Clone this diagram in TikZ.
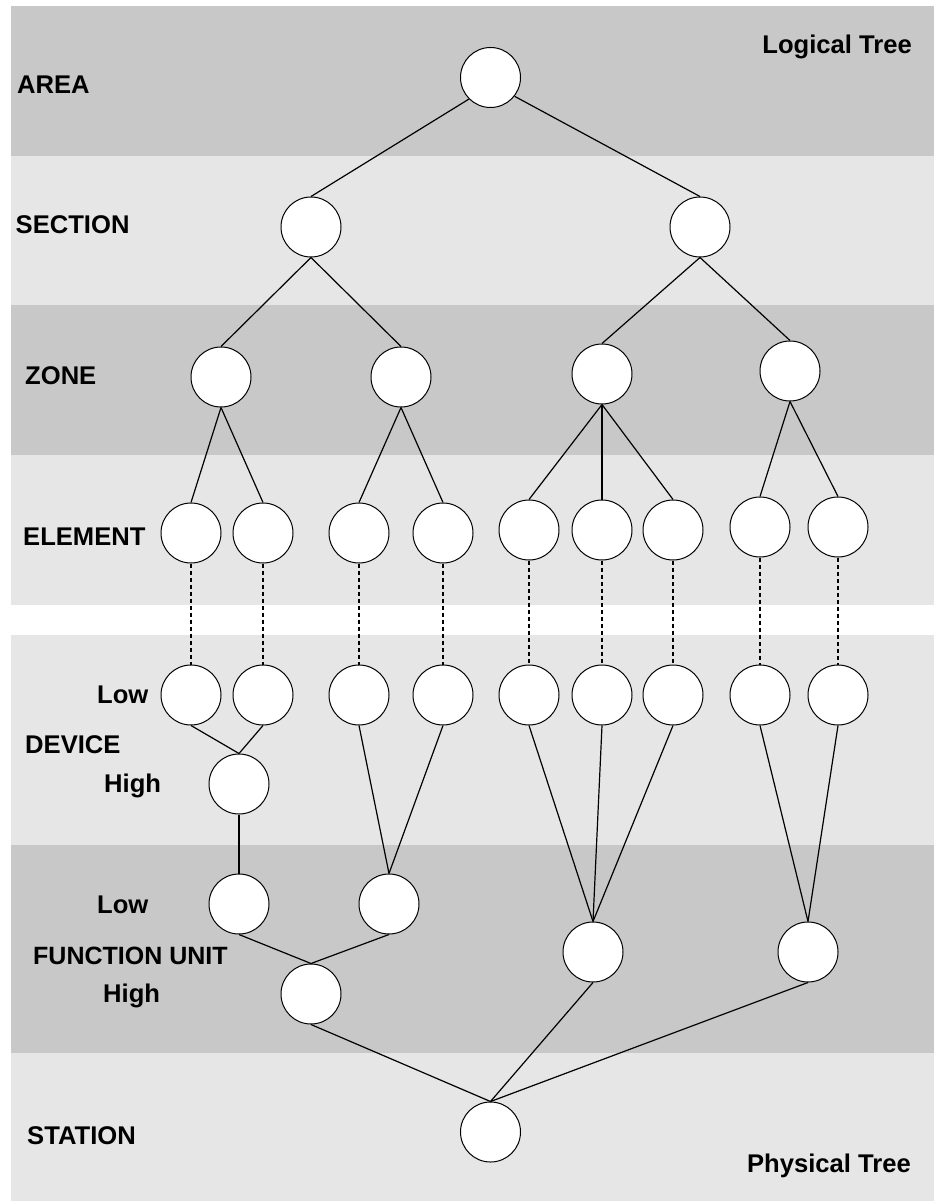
\documentclass[tikz,border=0pt]{standalone}
\usepackage{fontspec}
\setmainfont{Liberation Sans}
\definecolor{bandDark}{RGB}{200,200,200}
\definecolor{bandLight}{RGB}{230,230,230}
\begin{document}
\begin{tikzpicture}[x=1pt,y=-1pt,
  nd/.style={circle,draw=black,fill=white,line width=1pt,minimum size=60pt,inner sep=0pt},
  lbl/.style={font=\fontsize{25.6}{30}\selectfont\bfseries,inner sep=0pt},
  edge/.style={draw=black,line width=1.2pt},
  dsh/.style={draw=black,line width=1.2pt,dash pattern=on 4pt off 3pt}]
\useasboundingbox (0,0) rectangle (934,1201);
\fill[white] (0,0) rectangle (934,1201);
% bands
\fill[bandDark]  (11,6)    rectangle (934,156);
\fill[bandLight] (11,156)  rectangle (934,305);
\fill[bandDark]  (11,305)  rectangle (934,455);
\fill[bandLight] (11,455)  rectangle (934,605);
\fill[bandLight] (11,635)  rectangle (934,845);
\fill[bandDark]  (11,845)  rectangle (934,1053);
\fill[bandLight] (11,1053) rectangle (934,1201);
% labels
\node[lbl,anchor=base west] (lArea) at (17,94) {AREA};
\node[lbl,anchor=base west] (lSection) at (15.5,233.5) {SECTION};
\node[lbl,anchor=base west] (lZone) at (25,384) {ZONE};
\node[lbl,anchor=base west] (lElement) at (23,545) {ELEMENT};
\node[lbl,anchor=base west] (lDevLow) at (97,703) {Low};
\node[lbl,anchor=base west] (lDevice) at (25,753) {DEVICE};
\node[lbl,anchor=base west] (lDevHigh) at (104,792) {High};
\node[lbl,anchor=base west] (lFuLow) at (97,913) {Low};
\node[lbl,anchor=base west,font=\fontsize{25}{30}\selectfont\bfseries] (lFu) at (33,964) {FUNCTION UNIT};
\node[lbl,anchor=base west] (lFuHigh) at (103,1002) {High};
\node[lbl,anchor=base west] (lStation) at (27,1144) {STATION};
\node[lbl,anchor=base east] (lLogical) at (912,54) {Logical Tree};
\node[lbl,anchor=base east] (lPhysical) at (911,1172.5) {Physical Tree};
% nodes
\node[nd] (root) at (490.5,77.5) {};
\node[nd] (s1) at (311,227) {};
\node[nd] (s2) at (700,227) {};
\node[nd] (z1) at (221,377) {};
\node[nd] (z2) at (401,377) {};
\node[nd] (z3) at (602,374) {};
\node[nd] (z4) at (790,371) {};
\node[nd] (e1) at (191,533) {};
\node[nd] (e2) at (263,533) {};
\node[nd] (e3) at (359,533) {};
\node[nd] (e4) at (443,533) {};
\node[nd] (e5) at (529,530) {};
\node[nd] (e6) at (602,530) {};
\node[nd] (e7) at (673,530) {};
\node[nd] (e8) at (760,527) {};
\node[nd] (e9) at (838,527) {};
\node[nd] (d1) at (191,695) {};
\node[nd] (d2) at (263,695) {};
\node[nd] (d3) at (359,695) {};
\node[nd] (d4) at (443,695) {};
\node[nd] (d5) at (529,695) {};
\node[nd] (d6) at (602,695) {};
\node[nd] (d7) at (673,695) {};
\node[nd] (d8) at (760,695) {};
\node[nd] (d9) at (838,695) {};
\node[nd] (dh) at (239,784) {};
\node[nd] (f1) at (239,904) {};
\node[nd] (f2) at (389,904) {};
\node[nd] (f3) at (593,952) {};
\node[nd] (f4) at (808,952) {};
\node[nd] (fh) at (311,994) {};
\node[nd] (st) at (490.5,1132) {};
% connectors
\path[edge] (root.225) -- (s1.north);
\path[edge] (root.-38) -- (s2.north);
\path[edge] (s1.south) -- (z1.north);
\path[edge] (s1.south) -- (z2.north);
\path[edge] (s2.south) -- (z3.north);
\path[edge] (s2.south) -- (z4.north);
\path[edge] (z1.south) -- (e1.north);
\path[edge] (z1.south) -- (e2.north);
\path[edge] (z2.south) -- (e3.north);
\path[edge] (z2.south) -- (e4.north);
\path[edge] (z3.south) -- (e5.north);
\path[edge] (z3.south) -- (e6.north);
\path[edge] (z3.south) -- (e7.north);
\path[edge] (z4.south) -- (e8.north);
\path[edge] (z4.south) -- (e9.north);
\foreach \i in {1,...,9} {\path[dsh] (e\i.south) -- (d\i.north);}
\path[edge] (d1.south) -- (dh.north);
\path[edge] (d2.south) -- (dh.north);
\path[edge] (dh.south) -- (f1.north);
\path[edge] (d3.south) -- (f2.north);
\path[edge] (d4.south) -- (f2.north);
\path[edge] (d5.south) -- (f3.north);
\path[edge] (d6.south) -- (f3.north);
\path[edge] (d7.south) -- (f3.north);
\path[edge] (d8.south) -- (f4.north);
\path[edge] (d9.south) -- (f4.north);
\path[edge] (f1.south) -- (fh.north);
\path[edge] (f2.south) -- (fh.north);
\path[edge] (fh.south) -- (st.north);
\path[edge] (f3.south) -- (st.north);
\path[edge] (f4.south) -- (st.north);
\end{tikzpicture}
\end{document}
